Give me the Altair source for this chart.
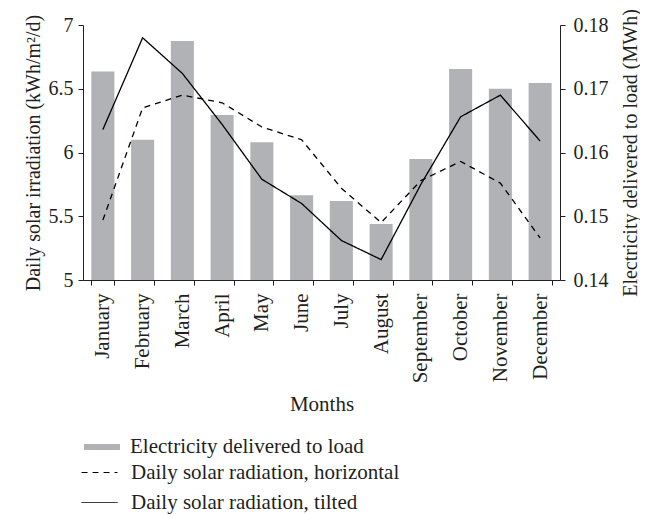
import altair as alt
import pandas as pd

months = ["January", "February", "March", "April", "May", "June", "July",
          "August", "September", "October", "November", "December"]
electricity = [0.1727, 0.1620, 0.1775, 0.1659, 0.1616, 0.1533, 0.1524,
               0.1488, 0.1590, 0.1731, 0.1700, 0.1709]
horizontal = [5.47, 6.35, 6.45, 6.39, 6.20, 6.10, 5.72, 5.45, 5.78, 5.93, 5.76, 5.33]
tilted = [6.18, 6.90, 6.62, 6.22, 5.79, 5.60, 5.31, 5.16, 5.75, 6.28, 6.45, 6.09]

bar_name = "Electricity delivered to load"
h_name = "Daily solar radiation, horizontal"
t_name = "Daily solar radiation, tilted"

df_bar = pd.DataFrame({"month": months, "elec": electricity, "series": bar_name})
df_line = pd.DataFrame({
    "month": months + months,
    "value": horizontal + tilted,
    "series": [h_name] * 12 + [t_name] * 12,
})

FONT = "Liberation Serif"
INK = "#231f20"
GRAY = "#b1b2b6"

x_enc = alt.X(
    "month:N", sort=months,
    scale=alt.Scale(paddingInner=0.42, paddingOuter=0.21),
    axis=alt.Axis(title="Months", labelAngle=-90, tickBand="extent",
                  labelFontSize=21, labelPadding=8, titleY=113, titleFontSize=21),
)

bars = alt.Chart(df_bar).mark_bar(clip=True).encode(
    x=x_enc,
    y=alt.Y("elec:Q",
            scale=alt.Scale(domain=[0.14, 0.18], nice=False, zero=False),
            axis=alt.Axis(orient="right", values=[0.14, 0.15, 0.16, 0.17, 0.18],
                          format=".2f", title="Electricity delivered to load (MWh)",
                          titleAngle=270, titleBaseline="top", labelPadding=8,
                          titlePadding=12)),
    color=alt.Color("series:N",
                    scale=alt.Scale(domain=[bar_name], range=[GRAY]),
                    legend=alt.Legend(title=None, orient="none", legendX=-2, legendY=401,
                                      symbolType="stroke", symbolSize=1296,
                                      symbolStrokeColor=GRAY, symbolStrokeWidth=6,
                                      labelOffset=7, padding=0, labelLimit=0)),
)

lines = alt.Chart(df_line).mark_line(color="black", strokeWidth=1.3).encode(
    x=x_enc,
    y=alt.Y("value:Q",
            scale=alt.Scale(domain=[5, 7], nice=False, zero=False),
            axis=alt.Axis(orient="left", values=[5, 5.5, 6, 6.5, 7], format="~g",
                          labelPadding=5,
                          title="Daily solar irradiation (kWh/m²/d)", titlePadding=5)),
    strokeDash=alt.StrokeDash("series:N",
                              scale=alt.Scale(domain=[h_name, t_name], range=[[6, 5], [1, 0]]),
                              legend=alt.Legend(title=None, orient="none", legendX=-2, legendY=429,
                                                symbolType="stroke", symbolSize=1296,
                                                symbolStrokeColor="black", symbolStrokeWidth=1,
                                                labelOffset=13, rowPadding=1, padding=0,
                                                labelLimit=0)),
    detail="series:N",
)

chart = alt.layer(bars, lines).resolve_scale(
    y="independent", color="independent", strokeDash="independent"
).properties(
    width=477, height=255,
    autosize=alt.AutoSizeParams(type="none"),
    padding={"left": 75, "top": 17, "right": 80, "bottom": 235},
).configure_view(stroke=None).configure_axis(
    labelFont=FONT, titleFont=FONT, labelFontSize=20, titleFontSize=20,
    titleFontWeight="normal", labelColor=INK, titleColor=INK,
    domainColor=INK, tickColor=INK, tickSize=5, grid=False,
).configure_legend(
    labelFont=FONT, labelFontSize=21, labelColor=INK,
)

chart.save("out.html", embed_options={"renderer": "svg", "actions": False})
